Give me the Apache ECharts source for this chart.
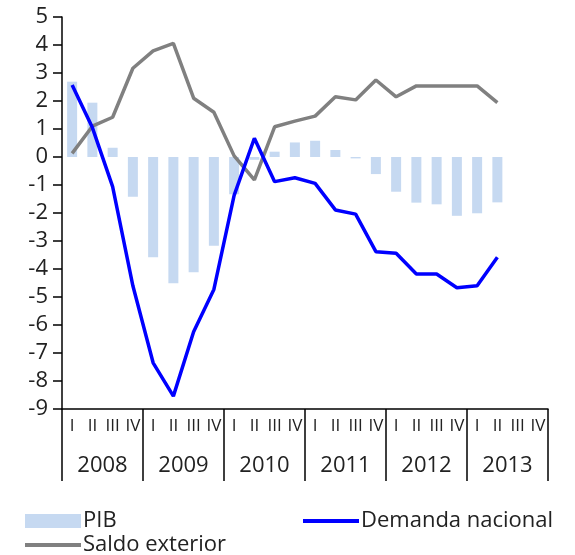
<!DOCTYPE html>
<html>
<head>
<meta charset="utf-8">
<script src="https://cdn.jsdelivr.net/npm/echarts@6/dist/echarts.min.js"></script>
<style>
  html, body { margin: 0; padding: 0; background: #fff; }
  #chart { width: 575px; height: 555px; }
</style>
</head>
<body>
<div id="chart"></div>
<script>
// datos trimestrales 2008-2013
var years = ['2008', '2009', '2010', '2011', '2012', '2013'];
var quarterNames = ['I', 'II', 'III', 'IV'];
var quarters = [];
years.forEach(function () { quarterNames.forEach(function (q) { quarters.push(q); }); });

var pib = [2.69, 1.94, 0.33, -1.42, -3.58, -4.51, -4.12, -3.17, -1.33, -0.1, 0.19, 0.52,
           0.58, 0.25, -0.05, -0.61, -1.24, -1.63, -1.69, -2.1, -2.01, -1.62, null, null];
var demanda = [2.57, 1.05, -1.06, -4.6, -7.35, -8.54, -6.24, -4.73, -1.37, 0.67, -0.88, -0.74,
               -0.94, -1.89, -2.04, -3.38, -3.44, -4.18, -4.18, -4.67, -4.6, -3.58, null, null];
var saldo = [0.13, 1.1, 1.42, 3.17, 3.79, 4.06, 2.1, 1.6, 0.04, -0.82, 1.08, 1.28,
             1.46, 2.15, 2.04, 2.75, 2.15, 2.54, 2.54, 2.54, 2.54, 1.94, null, null];

var chart = echarts.init(document.getElementById('chart'));
var font = 'Open Sans';
var txt = { fontFamily: font, fontSize: 22, color: '#222', padding: [0, 0, 0, -3] };

var option = {
  animation: false,
  grid: { left: 62, right: 27, top: 17, bottom: 146, containLabel: false },
  legend: [
    { left: 20, top: 505, icon: 'rect', itemWidth: 56, itemHeight: 14,
      textStyle: txt, data: ['PIB'] },
    { left: 298, top: 505, icon: 'rect', itemWidth: 56, itemHeight: 4,
      textStyle: txt, data: ['Demanda nacional'] },
    { left: 20, top: 529, icon: 'rect', itemWidth: 56, itemHeight: 4,
      textStyle: txt, data: ['Saldo exterior'] }
  ],
  xAxis: [
    {
      type: 'category',
      data: quarters,
      position: 'bottom',
      axisLine: { onZero: false, lineStyle: { color: '#000', width: 1.5 } },
      axisTick: { show: false },
      axisLabel: { interval: 0, margin: 9, fontFamily: font, fontSize: 17, color: '#222' },
      splitLine: { show: false }
    },
    {
      type: 'category',
      data: years,
      position: 'bottom',
      axisLine: { show: false, onZero: false },
      axisTick: { show: true, length: 72, lineStyle: { color: '#000', width: 1.5 } },
      axisLabel: { interval: 0, margin: 46, fontFamily: font, fontSize: 22, color: '#222' },
      splitLine: { show: false }
    }
  ],
  yAxis: {
    type: 'value',
    min: -9,
    max: 5,
    interval: 1,
    axisLine: { show: true, lineStyle: { color: '#000', width: 1.5 } },
    axisTick: { show: true, length: 9, lineStyle: { color: '#000', width: 1.5 } },
    axisLabel: { margin: 14, fontFamily: font, fontSize: 22, color: '#222' },
    splitLine: { show: false }
  },
  series: [
    {
      name: 'PIB', type: 'bar', xAxisIndex: 0, data: pib,
      barWidth: 10, itemStyle: { color: '#c6d9f1' }
    },
    {
      name: 'Saldo exterior', type: 'line', xAxisIndex: 0, data: saldo,
      symbol: 'none', lineStyle: { color: '#808080', width: 3.5 },
      itemStyle: { color: '#808080' }
    },
    {
      name: 'Demanda nacional', type: 'line', xAxisIndex: 0, data: demanda,
      symbol: 'none', lineStyle: { color: '#0000ff', width: 3.5 },
      itemStyle: { color: '#0000ff' }
    }
  ]
};

chart.setOption(option);
window.onresize = function () { chart.resize(); };
</script>
</body>
</html>
